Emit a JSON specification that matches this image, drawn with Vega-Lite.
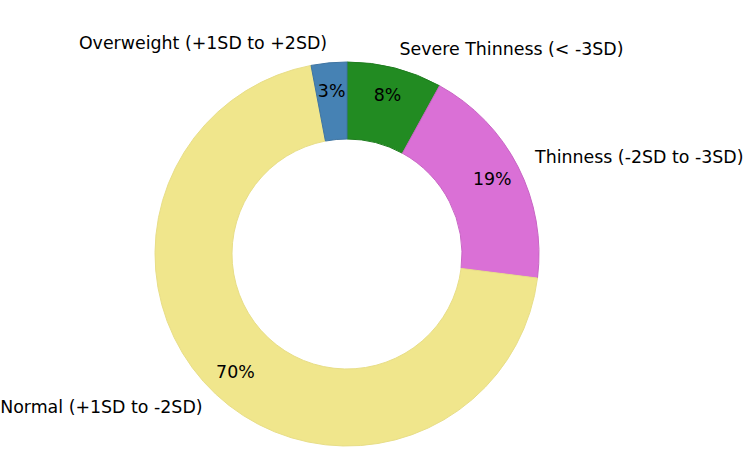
{
  "$schema": "https://vega.github.io/schema/vega-lite/v6.json",
  "autosize": {"type": "none"},
  "width": 694,
  "height": 440,
  "padding": {"left": 0, "right": 56, "top": 34, "bottom": 0},
  "background": "white",
  "config": {"view": {"stroke": null}, "font": "DejaVu Sans"},
  "data": {
    "values": [
      {"category": "Severe Thinness (< -3SD)", "value": 8, "rank": 1, "pct": "8%"},
      {"category": "Thinness (-2SD to -3SD)", "value": 19, "rank": 2, "pct": "19%"},
      {"category": "Normal (+1SD to -2SD)", "value": 70, "rank": 3, "pct": "70%"},
      {"category": "Overweight (+1SD to +2SD)", "value": 3, "rank": 4, "pct": "3%"}
    ]
  },
  "encoding": {
    "theta": {"field": "value", "type": "quantitative", "stack": true},
    "order": {"field": "rank", "type": "ordinal"}
  },
  "layer": [
    {
      "mark": {"type": "arc", "outerRadius": 192, "innerRadius": 115, "strokeWidth": 1},
      "encoding": {
        "color": {
          "field": "category", "type": "nominal", "legend": null,
          "scale": {
            "domain": ["Severe Thinness (< -3SD)", "Thinness (-2SD to -3SD)", "Normal (+1SD to -2SD)", "Overweight (+1SD to +2SD)"],
            "range": ["#228B22", "#DA70D6", "#F0E68C", "#4682B4"]
          }
        },
        "stroke": {
          "field": "category", "type": "nominal", "legend": null,
          "scale": {
            "domain": ["Severe Thinness (< -3SD)", "Thinness (-2SD to -3SD)", "Normal (+1SD to -2SD)", "Overweight (+1SD to +2SD)"],
            "range": ["#1f7d1f", "#c865c4", "#e8de88", "#3f75a2"]
          }
        }
      }
    },
    {
      "mark": {"type": "text", "radius": 163, "fontSize": 17.4, "color": "black", "align": "center", "baseline": "middle"},
      "encoding": {"text": {"field": "pct", "type": "nominal"}}
    },
    {
      "mark": {"type": "text", "radius": 211, "fontSize": 17.4, "color": "black", "align": "left", "baseline": "middle"},
      "encoding": {
        "text": {
          "condition": {"test": "datum.rank >= 3", "value": ""},
          "field": "category", "type": "nominal"
        }
      }
    },
    {
      "mark": {"type": "text", "radius": 211, "fontSize": 17.4, "color": "black", "align": "right", "baseline": "middle"},
      "encoding": {
        "text": {
          "condition": {"test": "datum.rank <= 2", "value": ""},
          "field": "category", "type": "nominal"
        }
      }
    }
  ]
}
